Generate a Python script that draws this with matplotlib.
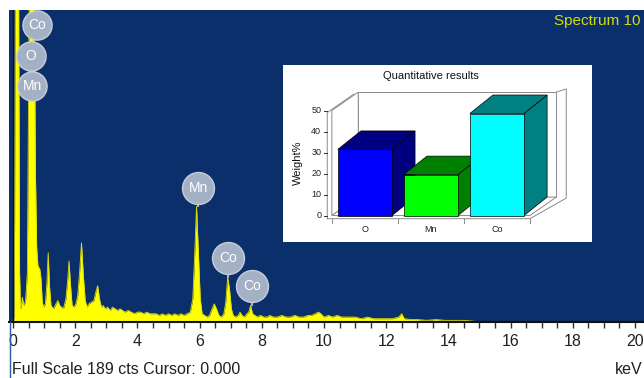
import matplotlib.pyplot as plt
from matplotlib.patches import Polygon
from matplotlib.lines import Line2D

plt.rcParams['font.family'] = ['Liberation Sans', 'DejaVu Sans']

# Espectro EDS (keV, cuentas)
energia = [0.00, 0.03, 0.05, 0.07, 0.18, 0.21, 0.24, 0.27, 0.30, 0.34, 0.40, 0.46, 0.52, 0.68,
           0.72, 0.76, 0.80, 0.86, 0.90, 0.94, 0.98, 1.04, 1.09, 1.13, 1.17, 1.22, 1.30, 1.38,
           1.44, 1.50, 1.56, 1.62, 1.70, 1.76, 1.80, 1.84, 1.90, 1.96, 2.02, 2.08, 2.14, 2.20,
           2.26, 2.32, 2.38, 2.44, 2.52, 2.60, 2.66, 2.72, 2.78, 2.84, 2.90, 2.96, 3.04, 3.12,
           3.20, 3.28, 3.36, 3.44, 3.52, 3.60, 3.70, 3.80, 3.90, 4.00, 4.10, 4.20, 4.30, 4.40,
           4.50, 4.60, 4.70, 4.80, 4.90, 5.00, 5.10, 5.20, 5.30, 5.40, 5.50, 5.60, 5.70, 5.78,
           5.84, 5.90, 5.96, 6.02, 6.08, 6.16, 6.24, 6.32, 6.40, 6.47, 6.54, 6.62, 6.70, 6.78,
           6.84, 6.90, 6.96, 7.02, 7.08, 7.16, 7.24, 7.30, 7.36, 7.44, 7.52, 7.58, 7.64, 7.70,
           7.78, 7.86, 7.96, 8.06, 8.16, 8.26, 8.36, 8.50, 8.64, 8.78, 8.92, 9.06, 9.20, 9.34,
           9.48, 9.60, 9.72, 9.82, 9.90, 10.00, 10.14, 10.28, 10.42, 10.56, 10.70, 10.84, 11.00,
           11.20, 11.40, 11.60, 11.80, 12.00, 12.20, 12.40, 12.50, 12.58, 12.80, 13.00, 13.30,
           13.60, 13.90, 14.20, 14.50, 14.80, 15.00, 20.30]
cuentas = [0, 3, 60, 200, 200, 30, 8, 10, 15, 10, 12, 30, 200, 200,
           90, 45, 34, 32, 26, 12, 9, 11, 24, 42, 22, 10, 8, 11,
           13, 10, 9, 8, 14, 26, 37, 24, 10, 9, 11, 16, 30, 48,
           28, 13, 9, 11, 12, 13, 18, 22, 14, 9, 10, 8, 9, 7,
           9, 8, 7, 8, 7, 6, 7, 6, 5, 6, 6, 5, 6, 5,
           5, 5, 4, 5, 4, 5, 4, 5, 4, 5, 4, 5, 6, 14,
           40, 70, 42, 14, 5, 4, 3, 4, 8, 11, 8, 4, 3, 5,
           12, 27, 20, 8, 4, 3, 4, 6, 4, 3, 5, 6, 10, 5,
           4, 3, 4, 3, 3, 4, 3, 3, 4, 3, 3, 4, 3, 3,
           4, 4, 5, 6, 5, 3, 4, 3, 4, 3, 3, 3, 3,
           2, 3, 2, 2, 2, 2, 3, 5, 2, 1.5, 1.5, 1,
           1.5, 1, 1, 1, 0.5, 0, 0]

# Etiquetas de picos
elementos = ['Co', 'O', 'Mn', 'Mn', 'Co', 'Co']
energia_etiqueta = [0.78, 0.58, 0.62, 5.95, 6.91, 7.68]
altura_etiqueta = [180, 161, 143, 81, 39, 22]
altura_pico = [None, None, None, 70, 27, 10]

# Resultados cuantitativos
categorias = ['O', 'Mn', 'Co']
peso = [31.5, 19.5, 48.6]
color_frente = ['#0000FF', '#00FF00', '#00FFFF']
color_lado = ['#000080', '#008000', '#008080']
ticks_peso = [0, 10, 20, 30, 40, 50]

fig = plt.figure(figsize=(6.44, 3.78), dpi=100)
fig.patch.set_facecolor('white')

ax = fig.add_axes([9 / 644, 56 / 378, 635 / 644, 312 / 378])
ax.set_facecolor('#0B2F6A')
ax.set_xlim(-0.13, 20.29)
ax.set_ylim(0, 189)

ax.fill_between(energia, cuentas, color='#FFFF00', lw=0, zorder=2)
ax.plot(energia, cuentas, color='#E0E000', lw=0.6, zorder=2)
ax.axvline(0, color='#101010', lw=1, zorder=3)

for s in ['top', 'right', 'left']:
    ax.spines[s].set_visible(False)
ax.spines['bottom'].set_color('#101010')
ax.spines['bottom'].set_linewidth(1.5)
ax.set_yticks([])
ax.set_xticks(range(0, 21, 2))
ax.set_xticks([i * 0.5 for i in range(41)], minor=True)
ax.tick_params(axis='x', which='both', direction='out', length=4, width=1, color='#303030')
ax.tick_params(axis='x', which='major', labelsize=11.5, pad=5, labelcolor='#202020')

# etiquetas de elementos
ax.plot(energia_etiqueta[:3], altura_etiqueta[:3], color='#A9B4C6', lw=1.5, zorder=4)
for i in range(len(elementos)):
    if altura_pico[i] is not None:
        ax.plot([energia_etiqueta[i]] * 2, [altura_pico[i], altura_etiqueta[i]],
                color='#A9B4C6', lw=1.5, zorder=4)
    tam = 21 if i < 3 else 23
    ax.plot(energia_etiqueta[i], altura_etiqueta[i], 'o', ms=tam, color='#A4B0C4',
            mec='#C6CEDA', mew=1, zorder=5)
    ax.text(energia_etiqueta[i], altura_etiqueta[i], elementos[i], color='white',
            fontsize=10, ha='center', va='center', zorder=6)

ax.text(0.995, 0.965, 'Spectrum 10', transform=ax.transAxes, color='#D4DC10',
        fontsize=11, ha='right', va='center')
fig.text(12 / 644, 9 / 378, 'Full Scale 189 cts Cursor: 0.000', fontsize=11.5,
         color='#202020', ha='left', va='center')
fig.text(643 / 644, 9 / 378, 'keV', fontsize=11.5, color='#202020', ha='right', va='center')
fig.add_artist(Line2D([9.5 / 644] * 2, [0, 56 / 378], color='#2A5AA8', lw=1))

# Grafico de barras 3D (inserto)
axi = fig.add_axes([283 / 644, 136 / 378, 309 / 644, 177 / 378])
axi.set_facecolor('white')
axi.set_xlim(-1.24, 3.44)
axi.set_ylim(-12.6, 71.7)
for s in axi.spines.values():
    s.set_visible(False)
axi.set_xticks([])
axi.set_yticks([])

dx, dy = 0.40, 8.8
bdx = 0.35
gris = '#8A8A8A'
# pared trasera
axi.add_patch(Polygon([(-0.5 + dx, dy), (2.5 + dx, dy), (2.5 + dx, 50 + dy), (-0.5 + dx, 50 + dy)],
                      closed=True, fc='white', ec=gris, lw=0.7))
axi.plot([2.5 + dx, 2.5 + dx + 0.15, 2.5 + dx + 0.15], [50 + dy, 50 + dy + 1.5, dy + 1.5],
         color=gris, lw=0.7)
# pared izquierda
axi.add_patch(Polygon([(-0.5, 0), (-0.5, 50), (-0.5 + dx, 50 + dy), (-0.5 + dx, dy)],
                      closed=True, fc='white', ec=gris, lw=0.7))
axi.plot([-0.57, -0.57, -0.5 + dx - 0.07], [-1.5, 49, 50 + dy - 1], color=gris, lw=0.7)
# suelo
axi.add_patch(Polygon([(-0.5, 0), (2.5, 0), (2.5 + dx, dy), (-0.5 + dx, dy)],
                      closed=True, fc='white', ec=gris, lw=0.7))
axi.plot([-0.57, 2.5, 2.5 + dx + 0.15, 2.5 + dx + 0.15], [-1.5, -1.5, dy - 0.5, dy + 1.5],
         color=gris, lw=0.7)
for t in [-0.5, 0.5, 1.5, 2.5]:
    axi.plot([t, t], [-1.5, -3.5], color=gris, lw=0.7)
for t in ticks_peso:
    axi.plot([-0.62, -0.57], [t, t], color='#303030', lw=0.7)
    axi.text(-0.66, t, str(t), fontsize=6.5, ha='right', va='center', color='#202020')

hw = 0.41
for i, v in enumerate(peso):
    axi.add_patch(Polygon([(i + hw, 0), (i + hw + bdx, dy), (i + hw + bdx, v + dy), (i + hw, v)],
                          closed=True, fc=color_lado[i], ec='black', lw=0.5))
    axi.add_patch(Polygon([(i - hw, v), (i + hw, v), (i + hw + bdx, v + dy), (i - hw + bdx, v + dy)],
                          closed=True, fc=color_lado[i], ec='black', lw=0.5))
    axi.add_patch(Polygon([(i - hw, 0), (i + hw, 0), (i + hw, v), (i - hw, v)],
                          closed=True, fc=color_frente[i], ec='black', lw=0.5))
    axi.text(i, -6.8, categorias[i], fontsize=6.5, ha='center', va='center', color='#202020')

axi.text(1.0, 66.5, 'Quantitative results', fontsize=8, ha='center', va='center', color='#101010')
axi.text(-1.02, 25, 'Weight%', fontsize=8, rotation=90, ha='center', va='center', color='#101010')

fig.savefig('out.png', dpi=100)
